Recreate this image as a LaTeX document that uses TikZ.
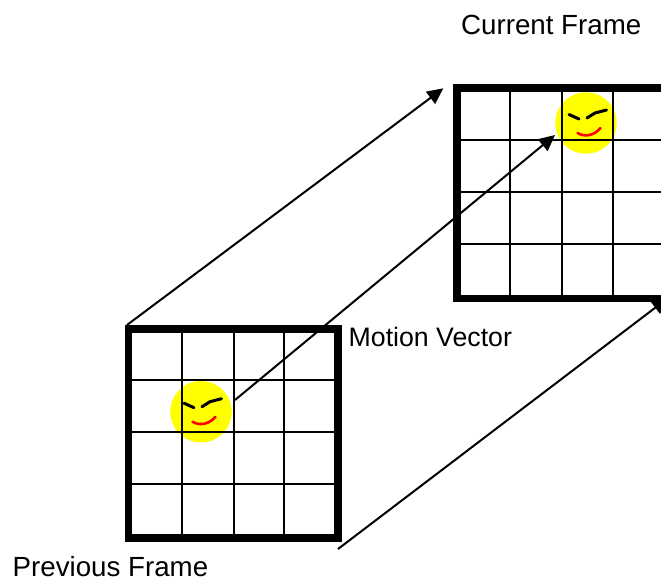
\documentclass[tikz,border=0pt]{standalone}
\usepackage{fontspec}
\setmainfont{Liberation Sans}
\usepackage{tikz}
\usetikzlibrary{arrows.meta,calc}
\definecolor{faceyellow}{RGB}{255,255,0}
\definecolor{smilered}{RGB}{255,0,0}
\newcommand{\smiley}[1]{%
  \fill[faceyellow] (#1) circle (30.7);
  \draw[browline] ($(#1)+(-17,-8.5)$) -- ($(#1)+(-7,-4)$);
  \draw[browline] ($(#1)+(1,-5)$) -- ($(#1)+(9,-10)$) -- ($(#1)+(20.5,-13)$);
  \draw[smileln] ($(#1)+(-8.5,10)$) .. controls ($(#1)+(-3,13.5)$) and ($(#1)+(7,14)$) .. ($(#1)+(14.5,5)$);
}
\tikzset{
  frameln/.style  = {black, line width=7.6},
  gridln/.style   = {black, line width=2.0},
  browline/.style = {black, line width=3.0, line cap=round},
  smileln/.style  = {smilered, line width=2.6, line cap=round},
  movearr/.style  = {-{Triangle[length=16,width=15]}, black, line width=2.0},
  framelbl/.style = {font=\fontsize{27.7}{30}\selectfont, inner sep=0pt, anchor=base west}
}
\begin{document}
\begin{tikzpicture}[x=1pt,y=-1pt]
  \useasboundingbox (0,0) rectangle (661,578);
  % --- previous frame ------------------------------------------------------
  \coordinate (PF) at (128.5,329);
  \smiley{201,411.7}
  \foreach \k in {53.5,105.2,155.8} \draw[gridln] ($(PF)+(\k,0)$) -- ($(PF)+(\k,209)$);
  \foreach \k in {51.3,103.3,155} \draw[gridln] ($(PF)+(0,\k)$) -- ($(PF)+(209.5,\k)$);
  \draw[frameln] (PF) rectangle (338,538);
  % --- current frame, it runs over the right edge of the page --------------
  \coordinate (CF) at (456.7,88);
  \smiley{586,123}
  \foreach \k in {53.6,105,156.3} \draw[gridln] ($(CF)+(\k,0)$) -- ($(CF)+(\k,210.5)$);
  \foreach \k in {52,104.3,155.7} \draw[gridln] ($(CF)+(0,\k)$) -- (661,{88+\k});
  \draw[frameln] (661,88) -- (CF) -- (456.7,298.5) -- (661,298.5);
  % --- the arrows from one frame to the other ------------------------------
  \coordinate (A1) at (127,325);
  \coordinate (B1) at (443.3,88.3);
  \coordinate (A2) at (235,400);
  \coordinate (B2) at (555,135);
  \coordinate (A3) at (338,549);
  \coordinate (B3) at (668,298);
  \draw[movearr] (A1) -- (B1);
  \draw[movearr] (A2) -- (B2);
  \begin{scope}
    \clip (0,0) rectangle (661,578);
    \draw[movearr] (A3) -- (B3);
  \end{scope}
  % --- labels ----------------------------------------------------------------
  \node[framelbl] (curlbl) at (461,35) {Current Frame};
  \node[framelbl,font=\fontsize{26.7}{30}\selectfont] (mvlbl) at (348.5,346) {Motion Vector};
  \node[framelbl] (prevlbl) at (12.5,576) {Previous Frame};
\end{tikzpicture}
\end{document}
